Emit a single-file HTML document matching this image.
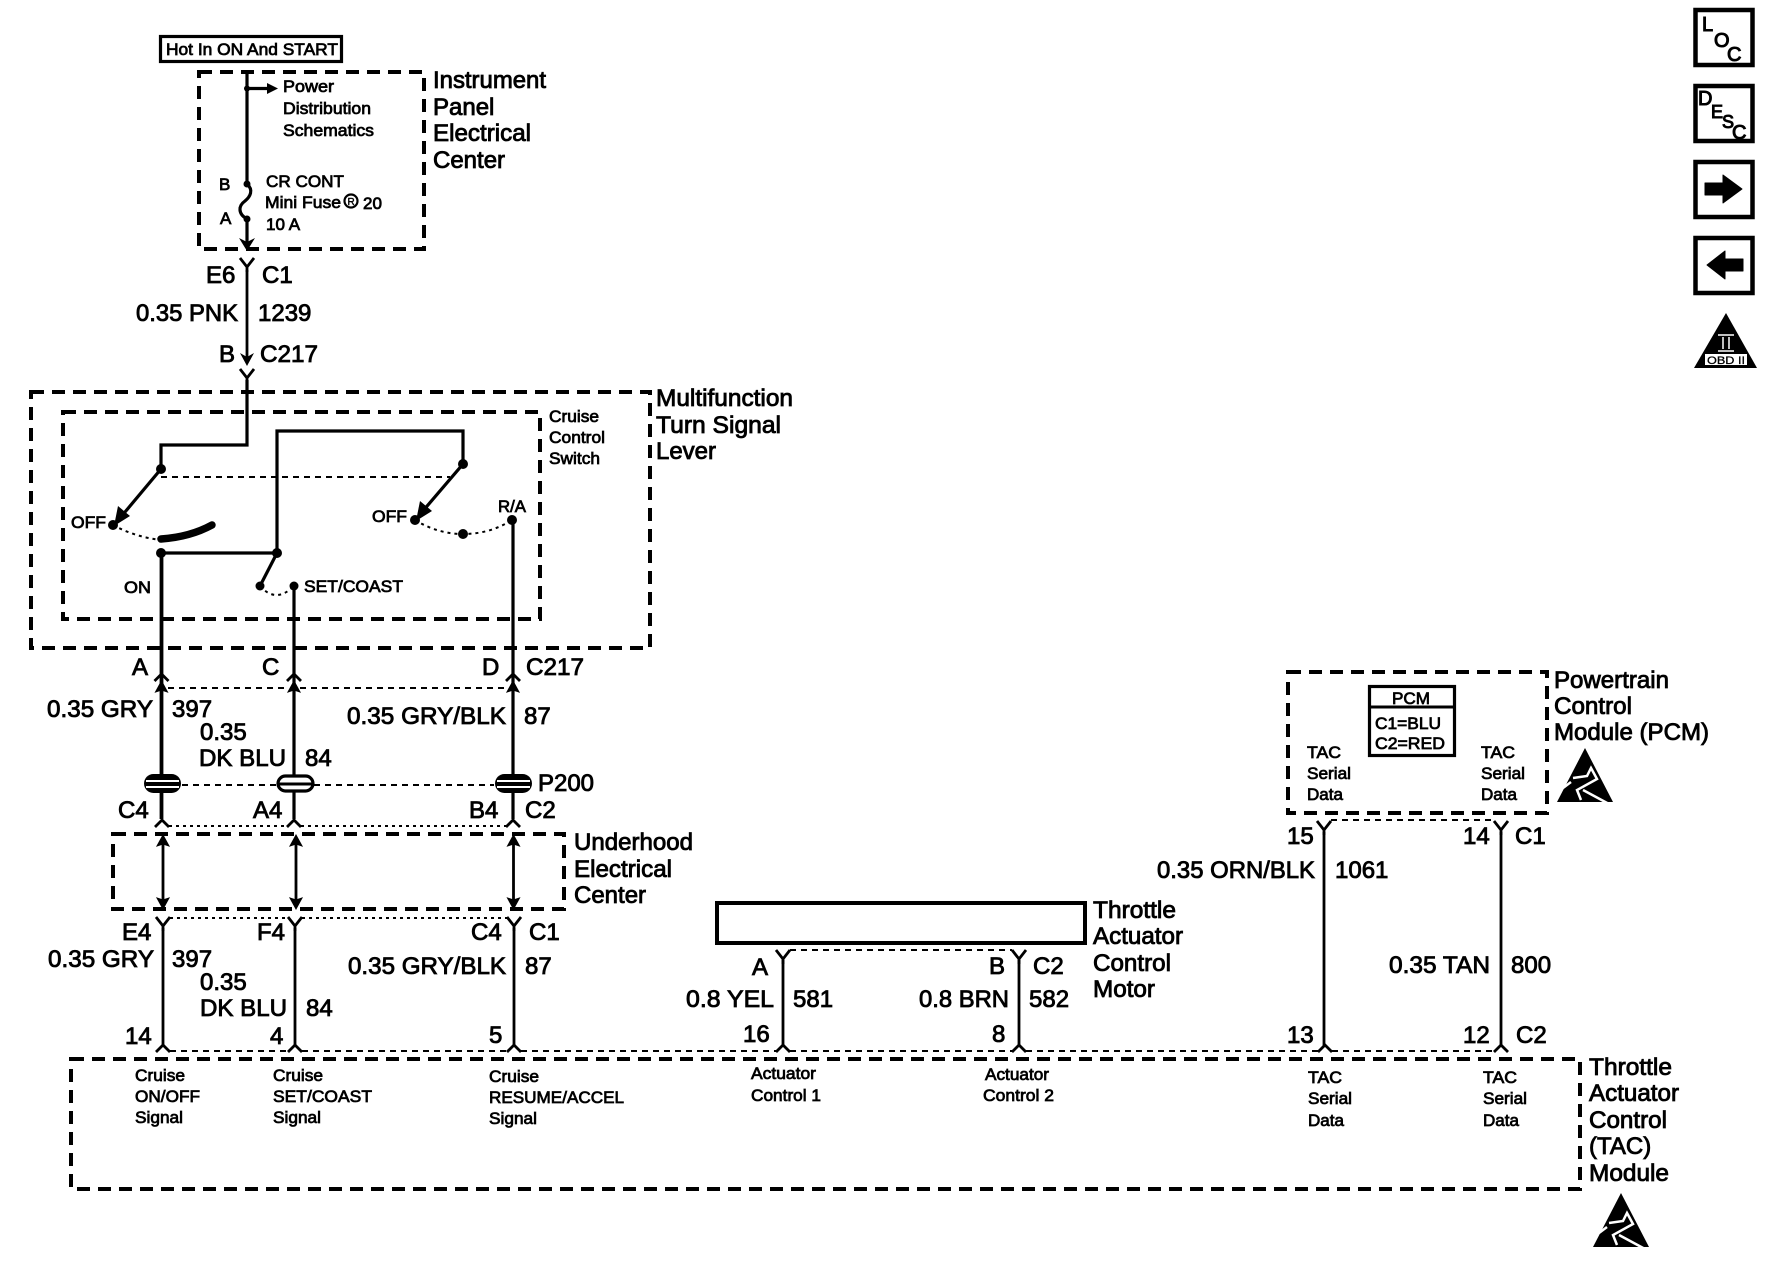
<!DOCTYPE html>
<html><head><meta charset="utf-8"><style>
html,body{margin:0;padding:0;background:#fff}
svg{display:block}
text{font-family:"Liberation Sans",sans-serif;fill:#000;stroke:#000}
.b{font-size:24px;stroke-width:.85}
.s{font-size:17px;stroke-width:.75}
.i{font-size:20px;stroke-width:1}
.w{fill:none;stroke:#000;stroke-width:3.2}
.t{fill:none;stroke:#000;stroke-width:2.800}
.d{fill:none;stroke:#000;stroke-width:4;stroke-dasharray:13 8}
.l{fill:none;stroke:#000;stroke-width:2;stroke-dasharray:6 5}
.o{fill:none;stroke:#000;stroke-width:2;stroke-dasharray:3 4}
</style></head><body>
<svg xmlns="http://www.w3.org/2000/svg" width="1774" height="1280" viewBox="0 0 1774 1280">
<rect width="1774" height="1280" fill="#fff"/>
<defs>
<path id="y" d="M-7 0L0 9L7 0M0 9V14" fill="none" stroke="#000" stroke-width="2.800"/>
<path id="c" d="M-7 7L0 0L7 7" fill="none" stroke="#000" stroke-width="2.800"/>
<path id="up" d="M-6 11L0 0L6 11L0 9Z" fill="#000" stroke="#000"/>
<path id="dn" d="M-6 -11L0 0L6 -11L0 -9Z" fill="#000" stroke="#000"/>
<g id="esd">
<path d="M28 0L0 54H56Z" fill="#000"/>
<path d="M16 30L30 28L34 20L40 31L20 42L24 52M26 42L52 56M6 40L14 34" fill="none" stroke="#fff" stroke-width="2.500"/>
<path d="M40 16L60 54H66V0H40Z" fill="#fff" opacity="0"/>
</g>
</defs>

<!-- Hot box -->
<rect x="160.500" y="36.500" width="181" height="25" fill="none" stroke="#000" stroke-width="3.200"/>
<text class="s" x="166" y="55" textLength="172" lengthAdjust="spacingAndGlyphs">Hot In ON And START</text>

<!-- IPEC -->
<rect class="d" x="199" y="72" width="225" height="177"/>
<path class="w" d="M247 72V184M247 219V248"/>
<path class="w" d="M247 88.500H270"/><path d="M267 83L278 88.500L267 94Z"/>
<circle cx="247" cy="88.500" r="3"/><circle cx="247" cy="184" r="3.500"/><circle cx="247" cy="219" r="3.500"/>
<path class="w" d="M247 184C254 190 250 197 245 201C238 206 238 214 247 219"/>
<path d="M239 238L247 251L255 238L247 242Z"/>
<text class="s" x="283" y="92" textLength="51" lengthAdjust="spacingAndGlyphs">Power</text>
<text class="s" x="283" y="114" textLength="88" lengthAdjust="spacingAndGlyphs">Distribution</text>
<text class="s" x="283" y="136" textLength="91" lengthAdjust="spacingAndGlyphs">Schematics</text>
<text class="s" x="219" y="190">B</text><text class="s" x="220" y="224">A</text>
<text class="s" x="266" y="187" textLength="78" lengthAdjust="spacingAndGlyphs">CR CONT</text>
<text class="s" x="265" y="208" textLength="76" lengthAdjust="spacingAndGlyphs">Mini Fuse</text>
<circle cx="351" cy="201" r="6.500" fill="none" stroke="#000" stroke-width="2.200"/>
<text x="347.500" y="205" style="font-size:10px;stroke-width:.4">R</text>
<text class="s" x="363" y="209">20</text>
<text class="s" x="266" y="230">10 A</text>
<text class="b" x="433" y="88" textLength="113" lengthAdjust="spacingAndGlyphs">Instrument</text>
<text class="b" x="433" y="115">Panel</text>
<text class="b" x="433" y="141" textLength="98" lengthAdjust="spacingAndGlyphs">Electrical</text>
<text class="b" x="433" y="168">Center</text>

<!-- top wire -->
<use href="#y" x="247" y="258"/>
<path class="t" d="M247 270V360"/>
<path d="M240 353L247 366L254 353L247 357Z"/>
<use href="#y" x="247" y="369"/>
<text class="b" x="206" y="283">E6</text><text class="b" x="262" y="283">C1</text>
<text class="b" x="136" y="321" textLength="102" lengthAdjust="spacingAndGlyphs">0.35 PNK</text>
<text class="b" x="258" y="321">1239</text>
<text class="b" x="219" y="362">B</text><text class="b" x="260" y="362" textLength="58" lengthAdjust="spacingAndGlyphs">C217</text>

<!-- Multifunction -->
<rect class="d" x="31" y="392" width="619" height="256"/>
<rect class="d" x="63" y="412" width="477" height="207"/>
<text class="s" x="549" y="422" textLength="50" lengthAdjust="spacingAndGlyphs">Cruise</text>
<text class="s" x="549" y="443" textLength="56" lengthAdjust="spacingAndGlyphs">Control</text>
<text class="s" x="549" y="464" textLength="51" lengthAdjust="spacingAndGlyphs">Switch</text>
<text class="b" x="656" y="406" textLength="137" lengthAdjust="spacingAndGlyphs">Multifunction</text>
<text class="b" x="656" y="433" textLength="125" lengthAdjust="spacingAndGlyphs">Turn Signal</text>
<text class="b" x="656" y="459" textLength="60" lengthAdjust="spacingAndGlyphs">Lever</text>

<path class="w" d="M247 380V445H161V469"/>
<path class="w" d="M161 469L120 518"/>
<path d="M114 526L118 506L130 516Z"/>
<circle cx="161" cy="469" r="5"/><circle cx="113" cy="525" r="5"/>
<path class="l" d="M161 477H450"/>
<path class="w" d="M161 553H277V431H463V464L422 512"/>
<path d="M416 521L420 501L432 511Z"/>
<circle cx="463" cy="464" r="5"/><circle cx="415" cy="520" r="5"/>
<path class="o" d="M113 525Q135 537 161 540"/>
<path d="M161 539Q190 537 212 525" fill="none" stroke="#000" stroke-width="7.500" stroke-linecap="round"/>
<circle cx="161" cy="553" r="5"/>
<circle cx="277" cy="553" r="5"/>
<path class="w" d="M277 553L260 586"/>
<circle cx="260" cy="586" r="4.500"/><circle cx="294" cy="586" r="4.500"/>
<path class="o" d="M260 586Q276 604 294 586"/>
<path class="o" d="M415 520Q438 534 463 534Q490 534 512 520"/>
<circle cx="463" cy="534" r="5"/><circle cx="512" cy="520" r="5"/>
<text class="s" x="71" y="528" textLength="35" lengthAdjust="spacingAndGlyphs">OFF</text>
<text class="s" x="372" y="522" textLength="35" lengthAdjust="spacingAndGlyphs">OFF</text>
<text class="s" x="498" y="512" textLength="28" lengthAdjust="spacingAndGlyphs">R/A</text>
<text class="s" x="124" y="593" textLength="27" lengthAdjust="spacingAndGlyphs">ON</text>
<text class="s" x="304" y="592" textLength="99" lengthAdjust="spacingAndGlyphs">SET/COAST</text>

<!-- verticals -->
<path class="w" d="M161.500 553V819" style="stroke-width:3.800"/>
<path class="w" d="M294 586V819"/>
<path class="w" d="M513 520V819" style="stroke-width:3.200"/>
<use href="#c" x="161.500" y="674"/><use href="#c" x="294" y="674"/><use href="#c" x="513" y="674"/>
<use href="#up" x="161.500" y="681"/><use href="#up" x="294" y="681"/><use href="#up" x="513" y="681"/>
<path class="l" d="M168 688H288M300 688H507"/>
<text class="b" x="132" y="675">A</text><text class="b" x="262" y="675">C</text><text class="b" x="482" y="675">D</text>
<text class="b" x="526" y="675" textLength="58" lengthAdjust="spacingAndGlyphs">C217</text>
<text class="b" x="47" y="717" textLength="106" lengthAdjust="spacingAndGlyphs">0.35 GRY</text>
<text class="b" x="172" y="717">397</text>
<text class="b" x="200" y="740">0.35</text>
<text class="b" x="199" y="766" textLength="87" lengthAdjust="spacingAndGlyphs">DK BLU</text>
<text class="b" x="305" y="766">84</text>
<text class="b" x="347" y="724" textLength="159" lengthAdjust="spacingAndGlyphs">0.35 GRY/BLK</text>
<text class="b" x="524" y="724">87</text>

<!-- P200 -->
<rect x="144" y="774" width="37" height="19" rx="9.500" fill="#000"/>
<rect x="146" y="780" width="33" height="2" fill="#fff"/><rect x="146" y="786" width="33" height="2" fill="#fff"/>
<rect x="278" y="776" width="35" height="15" rx="7.500" fill="#fff" stroke="#000" stroke-width="3.200"/>
<path d="M278 784H313" stroke="#000" stroke-width="3"/>
<rect x="495" y="774" width="37" height="19" rx="9.500" fill="#000"/>
<rect x="497" y="780" width="33" height="2" fill="#fff"/><rect x="497" y="786" width="33" height="2" fill="#fff"/>
<path class="l" d="M182 785H276M314 785H494"/>
<text class="b" x="538" y="791" textLength="56" lengthAdjust="spacingAndGlyphs">P200</text>
<text class="b" x="118" y="818">C4</text><text class="b" x="253" y="818">A4</text><text class="b" x="469" y="818">B4</text><text class="b" x="525" y="818">C2</text>
<use href="#c" x="162" y="820"/><use href="#c" x="294" y="820"/><use href="#c" x="513" y="820"/>
<path class="o" d="M169 826H287M301 826H506"/>

<!-- Underhood -->
<rect class="d" x="113" y="834" width="451" height="75"/>
<path class="t" d="M163 838V904M296 838V904M513.500 838V904"/>
<use href="#up" x="163" y="835"/><use href="#up" x="296" y="835"/><use href="#up" x="513.500" y="835"/>
<use href="#dn" x="163" y="909"/><use href="#dn" x="296" y="909"/><use href="#dn" x="513.500" y="909"/>
<text class="b" x="574" y="850" textLength="119" lengthAdjust="spacingAndGlyphs">Underhood</text>
<text class="b" x="574" y="877" textLength="98" lengthAdjust="spacingAndGlyphs">Electrical</text>
<text class="b" x="574" y="903">Center</text>

<!-- lower wires -->
<use href="#y" x="163" y="917"/><use href="#y" x="295" y="917"/><use href="#y" x="514" y="917"/>
<path class="o" d="M170 918H288M302 918H507"/>
<path class="t" d="M163 928V1046M295 928V1046M514 928V1046"/>
<text class="b" x="122" y="940">E4</text><text class="b" x="257" y="940">F4</text><text class="b" x="471" y="940">C4</text><text class="b" x="529" y="940">C1</text>
<text class="b" x="48" y="967" textLength="106" lengthAdjust="spacingAndGlyphs">0.35 GRY</text>
<text class="b" x="172" y="967">397</text>
<text class="b" x="200" y="990">0.35</text>
<text class="b" x="200" y="1016" textLength="87" lengthAdjust="spacingAndGlyphs">DK BLU</text>
<text class="b" x="306" y="1016">84</text>
<text class="b" x="348" y="974" textLength="158" lengthAdjust="spacingAndGlyphs">0.35 GRY/BLK</text>
<text class="b" x="525" y="974">87</text>
<text class="b" x="125" y="1044">14</text><text class="b" x="270" y="1044">4</text><text class="b" x="489" y="1043">5</text>
<use href="#c" x="163" y="1045"/><use href="#c" x="295" y="1045"/><use href="#c" x="514" y="1045"/><use href="#c" x="783" y="1045"/><use href="#c" x="1019" y="1045"/><use href="#c" x="1325" y="1045"/><use href="#c" x="1501" y="1045"/>
<path class="l" d="M170 1051H288M302 1051H507M521 1051H776M790 1051H1012M1026 1051H1318M1332 1051H1494"/>

<!-- TAC module -->
<rect class="d" x="71" y="1059" width="1509" height="130"/>
<text class="s" x="135" y="1081" textLength="50" lengthAdjust="spacingAndGlyphs">Cruise</text>
<text class="s" x="135" y="1102" textLength="65" lengthAdjust="spacingAndGlyphs">ON/OFF</text>
<text class="s" x="135" y="1123" textLength="48" lengthAdjust="spacingAndGlyphs">Signal</text>
<text class="s" x="273" y="1081" textLength="50" lengthAdjust="spacingAndGlyphs">Cruise</text>
<text class="s" x="273" y="1102" textLength="99" lengthAdjust="spacingAndGlyphs">SET/COAST</text>
<text class="s" x="273" y="1123" textLength="48" lengthAdjust="spacingAndGlyphs">Signal</text>
<text class="s" x="489" y="1082" textLength="50" lengthAdjust="spacingAndGlyphs">Cruise</text>
<text class="s" x="489" y="1103" textLength="135" lengthAdjust="spacingAndGlyphs">RESUME/ACCEL</text>
<text class="s" x="489" y="1124" textLength="48" lengthAdjust="spacingAndGlyphs">Signal</text>
<text class="s" x="751" y="1079" textLength="65" lengthAdjust="spacingAndGlyphs">Actuator</text>
<text class="s" x="751" y="1101" textLength="70" lengthAdjust="spacingAndGlyphs">Control 1</text>
<text class="s" x="985" y="1080" textLength="64" lengthAdjust="spacingAndGlyphs">Actuator</text>
<text class="s" x="983" y="1101" textLength="71" lengthAdjust="spacingAndGlyphs">Control 2</text>
<text class="s" x="1308" y="1083" textLength="34" lengthAdjust="spacingAndGlyphs">TAC</text>
<text class="s" x="1308" y="1104" textLength="44" lengthAdjust="spacingAndGlyphs">Serial</text>
<text class="s" x="1308" y="1126" textLength="36" lengthAdjust="spacingAndGlyphs">Data</text>
<text class="s" x="1483" y="1083" textLength="34" lengthAdjust="spacingAndGlyphs">TAC</text>
<text class="s" x="1483" y="1104" textLength="44" lengthAdjust="spacingAndGlyphs">Serial</text>
<text class="s" x="1483" y="1126" textLength="36" lengthAdjust="spacingAndGlyphs">Data</text>
<text class="b" x="1589" y="1075" textLength="83" lengthAdjust="spacingAndGlyphs">Throttle</text>
<text class="b" x="1589" y="1101" textLength="90" lengthAdjust="spacingAndGlyphs">Actuator</text>
<text class="b" x="1589" y="1128" textLength="78" lengthAdjust="spacingAndGlyphs">Control</text>
<text class="b" x="1589" y="1154">(TAC)</text>
<text class="b" x="1589" y="1181" textLength="80" lengthAdjust="spacingAndGlyphs">Module</text>
<use href="#esd" x="1593" y="1193"/>

<!-- Motor -->
<rect x="717" y="903" width="368" height="40" fill="none" stroke="#000" stroke-width="4"/>
<text class="b" x="1093" y="918" textLength="83" lengthAdjust="spacingAndGlyphs">Throttle</text>
<text class="b" x="1093" y="944" textLength="90" lengthAdjust="spacingAndGlyphs">Actuator</text>
<text class="b" x="1093" y="971" textLength="78" lengthAdjust="spacingAndGlyphs">Control</text>
<text class="b" x="1093" y="997" textLength="62" lengthAdjust="spacingAndGlyphs">Motor</text>
<use href="#y" x="783" y="950"/><use href="#y" x="1019" y="950"/>
<path class="l" d="M790 950H1012"/>
<path class="t" d="M783 960V1046M1019 960V1046"/>
<text class="b" x="752" y="975">A</text><text class="b" x="989" y="974">B</text><text class="b" x="1033" y="974">C2</text>
<text class="b" x="686" y="1007" textLength="88" lengthAdjust="spacingAndGlyphs">0.8 YEL</text>
<text class="b" x="793" y="1007">581</text>
<text class="b" x="919" y="1007" textLength="90" lengthAdjust="spacingAndGlyphs">0.8 BRN</text>
<text class="b" x="1029" y="1007">582</text>
<text class="b" x="743" y="1042">16</text><text class="b" x="992" y="1042">8</text>

<!-- PCM -->
<rect class="d" x="1288" y="672" width="259" height="141"/>
<rect x="1369.500" y="686.500" width="85" height="69" fill="none" stroke="#000" stroke-width="3.200"/>
<path d="M1369 707H1454" stroke="#000" stroke-width="3"/>
<text class="s" x="1392" y="704" textLength="38" lengthAdjust="spacingAndGlyphs">PCM</text>
<text class="s" x="1375" y="729" textLength="66" lengthAdjust="spacingAndGlyphs">C1=BLU</text>
<text class="s" x="1375" y="749" textLength="70" lengthAdjust="spacingAndGlyphs">C2=RED</text>
<text class="s" x="1307" y="758" textLength="34" lengthAdjust="spacingAndGlyphs">TAC</text>
<text class="s" x="1307" y="779" textLength="44" lengthAdjust="spacingAndGlyphs">Serial</text>
<text class="s" x="1307" y="800" textLength="36" lengthAdjust="spacingAndGlyphs">Data</text>
<text class="s" x="1481" y="758" textLength="34" lengthAdjust="spacingAndGlyphs">TAC</text>
<text class="s" x="1481" y="779" textLength="44" lengthAdjust="spacingAndGlyphs">Serial</text>
<text class="s" x="1481" y="800" textLength="36" lengthAdjust="spacingAndGlyphs">Data</text>
<text class="b" x="1554" y="688" textLength="115" lengthAdjust="spacingAndGlyphs">Powertrain</text>
<text class="b" x="1554" y="714" textLength="78" lengthAdjust="spacingAndGlyphs">Control</text>
<text class="b" x="1554" y="740" textLength="155" lengthAdjust="spacingAndGlyphs">Module (PCM)</text>
<use href="#esd" x="1557" y="748"/>
<use href="#y" x="1324" y="821"/><use href="#y" x="1501" y="821"/>
<path class="l" d="M1331 820H1494"/>
<path class="t" d="M1324 832V1046M1501 832V1046"/>
<text class="b" x="1287" y="844">15</text><text class="b" x="1463" y="844">14</text><text class="b" x="1515" y="844">C1</text>
<text class="b" x="1157" y="878" textLength="158" lengthAdjust="spacingAndGlyphs">0.35 ORN/BLK</text>
<text class="b" x="1335" y="878">1061</text>
<text class="b" x="1389" y="973" textLength="101" lengthAdjust="spacingAndGlyphs">0.35 TAN</text>
<text class="b" x="1511" y="973">800</text>
<text class="b" x="1287" y="1043">13</text><text class="b" x="1463" y="1043">12</text><text class="b" x="1516" y="1043">C2</text>

<!-- Icons -->
<rect x="1695.500" y="10" width="57" height="55" fill="none" stroke="#000" stroke-width="4.500"/>
<text class="i" x="1702" y="31">L</text>
<text class="i" x="1714" y="47">O</text>
<text class="i" x="1727" y="61">C</text>
<rect x="1695.500" y="86" width="57" height="55" fill="none" stroke="#000" stroke-width="4.500"/>
<text class="i" x="1698" y="105">D</text>
<text class="i" x="1711" y="118" style="font-size:18px">E</text>
<text class="i" x="1722" y="128" style="font-size:18px">S</text>
<text class="i" x="1732" y="139">C</text>
<rect x="1695.500" y="162" width="57" height="55" fill="none" stroke="#000" stroke-width="4.500"/>
<path d="M1705 183H1723V175L1742 189L1723 203V195H1705Z" fill="#000" stroke="#000" stroke-linejoin="round"/>
<rect x="1695.500" y="238" width="57" height="55" fill="none" stroke="#000" stroke-width="4.500"/>
<path d="M1743 259H1725V251L1707 265L1725 279V271H1743Z" fill="#000" stroke="#000" stroke-linejoin="round"/>
<path d="M1726 313L1757 368H1694Z" fill="#000"/>
<path d="M1718 335H1734M1718 351H1734M1723 337V349M1729 337V349" stroke="#fff" stroke-width="1.500"/>
<rect x="1705" y="354" width="42" height="11" fill="#fff"/>
<text x="1707" y="364" style="font-size:11px;stroke-width:.3" textLength="38" lengthAdjust="spacingAndGlyphs">OBD II</text>
</svg>
</body></html>
